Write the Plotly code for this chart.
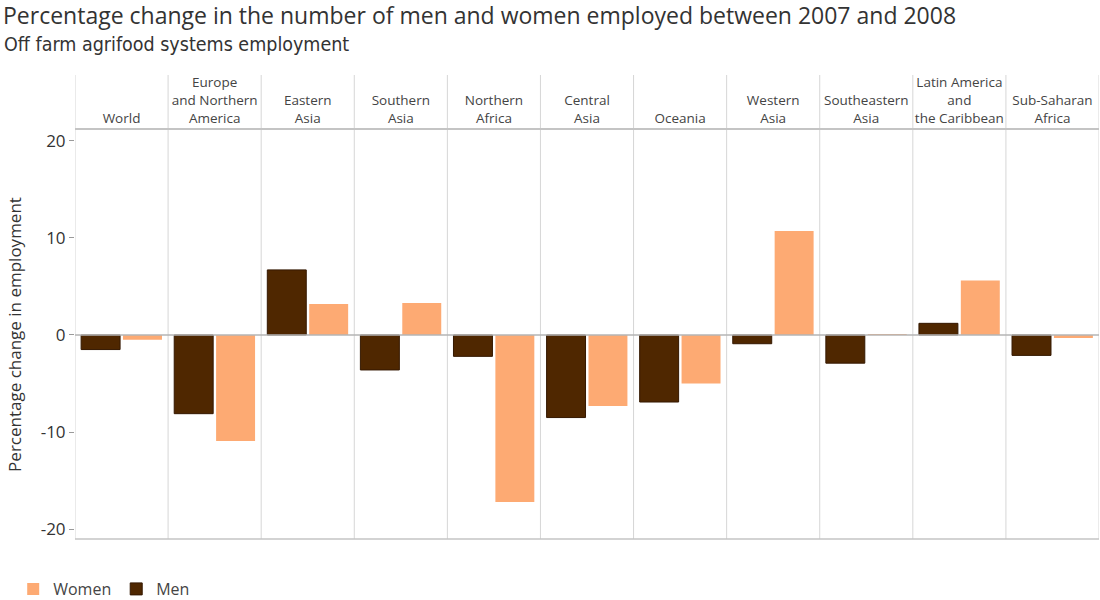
import plotly.graph_objects as go

regions = ["World", "Europe<br>and Northern<br>America", "Eastern<br>Asia", "Southern<br>Asia",
           "Northern<br>Africa", "Central<br>Asia", "Oceania", "Western<br>Asia",
           "Southeastern<br>Asia", "Latin America<br>and<br>the Caribbean", "Sub-Saharan<br>Africa"]
men = [-1.5, -8.1, 6.7, -3.6, -2.2, -8.5, -6.9, -0.9, -2.9, 1.2, -2.1]
women = [-0.5, -10.9, 3.2, 3.3, -17.2, -7.3, -5.0, 10.7, 0.1, 5.6, -0.3]
y_ticks = [-20, -10, 0, 10, 20]
y_tick_text = ["-20", "-10", "0", "10", "20"]

MEN_COLOR = "#4f2700"
WOMEN_COLOR = "#fdaa73"
FONT = "Open Sans, Noto Sans, sans-serif"
NARROW = "Liberation Sans Narrow, DejaVu Sans Condensed, sans-serif"

fig = go.Figure()
fig.add_trace(go.Bar(x=regions, y=men, name="Men", marker=dict(color=MEN_COLOR, line=dict(color="#341800", width=1))))
fig.add_trace(go.Bar(x=regions, y=women, name="Women", marker=dict(color=WOMEN_COLOR, line=dict(width=0))))

L, R, T, B = 75, 1, 130, 61
PW = 1100 - L - R
PH = 600 - T - B

shapes = []
for i in range(len(regions) + 1):
    shapes.append(dict(type="line", xref="x", yref="paper", x0=i - 0.5, x1=i - 0.5, y0=0, y1=1 + 55 / PH,
                       line=dict(color="#d6d6d6", width=1), layer="below"))
shapes.append(dict(type="line", xref="paper", yref="y", x0=0, x1=1, y0=0, y1=0,
                   line=dict(color="#b4b4b4", width=1.5)))
shapes.append(dict(type="line", xref="paper", yref="paper", x0=0, x1=1, y0=0, y1=0,
                   line=dict(color="#c4c4c4", width=1.5)))

annotations = [
    dict(text="Percentage change in the number of men and women employed between 2007 and 2008",
         xref="paper", yref="paper", x=(1 - L) / PW, y=1 + (T - 15) / PH, xanchor="left", yanchor="middle",
         showarrow=False, font=dict(size=23, family=FONT, color="#333333")),
    dict(text="Off farm agrifood systems employment",
         xref="paper", yref="paper", x=(2 - L) / PW, y=1 + (T - 45) / PH, xanchor="left", yanchor="middle",
         showarrow=False, font=dict(size=19.5, family=NARROW, color="#333333")),
]

fig.update_layout(
    width=1100, height=600,
    margin=dict(l=L, r=R, t=T, b=B),
    paper_bgcolor="white", plot_bgcolor="white",
    barmode="group", bargap=0.1, bargroupgap=0.07,
    font=dict(family=FONT, color="#333333"),
    xaxis=dict(side="top", range=[-0.5, len(regions) - 0.5], showgrid=False, ticks="",
               showline=True, linecolor="#c4c4c4", linewidth=2, automargin=False,
               tickfont=dict(size=13.5, color="#444444", family=FONT), fixedrange=True),
    yaxis=dict(range=[-21, 21.1], tickvals=y_ticks, ticktext=y_tick_text, showgrid=False, zeroline=False,
               ticks="outside", ticklen=5, tickcolor="#9a9a9a", automargin=False,
               tickfont=dict(size=17, color="#333333"),
               title=dict(text="Percentage change in employment", font=dict(size=17, color="#333333"), standoff=14)),
    legend=dict(orientation="h", traceorder="reversed", xref="container", yref="container",
                x=0.012, y=11 / 600, xanchor="left", yanchor="middle",
                font=dict(size=16, color="#444444"), itemwidth=30),
    showlegend=True,
    shapes=shapes,
    annotations=annotations,
)

fig.write_html("out.html", config={"displayModeBar": False},
               post_script="document.body.style.margin='0px';document.body.style.overflow='hidden';")
